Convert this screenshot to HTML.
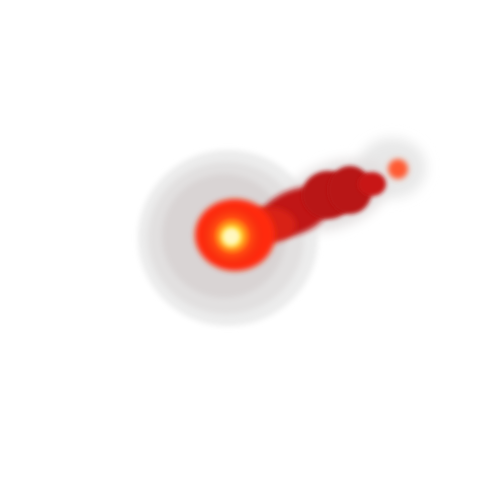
<!DOCTYPE html>
<html>
<head>
<meta charset="utf-8">
<style>
  html,body{margin:0;padding:0;background:#fff;}
  svg{display:block;}
</style>
</head>
<body>
<svg width="480" height="477" viewBox="0 0 480 477">
  <defs>
    <filter id="b8" x="-50%" y="-50%" width="200%" height="200%"><feGaussianBlur stdDeviation="6"/></filter>
    <filter id="b4" x="-50%" y="-50%" width="200%" height="200%"><feGaussianBlur stdDeviation="3"/></filter>
    <filter id="b2" x="-50%" y="-50%" width="200%" height="200%"><feGaussianBlur stdDeviation="2"/></filter>
    <radialGradient id="core" cx="50%" cy="50%" r="50%">
      <stop offset="0%" stop-color="#fffbd0"/>
      <stop offset="25%" stop-color="#ffd020"/>
      <stop offset="60%" stop-color="#ff4a10"/>
      <stop offset="100%" stop-color="#ee2a10" stop-opacity="0"/>
    </radialGradient>
  </defs>
  <g>
    <ellipse cx="228" cy="238" rx="90" ry="88" fill="#ececec" filter="url(#b4)"/>
    <ellipse cx="226" cy="238" rx="78" ry="76" fill="#e2e0e0" filter="url(#b4)"/>
    <ellipse cx="224" cy="236" rx="62" ry="62" fill="#d9d4d4" filter="url(#b4)"/>
    <ellipse cx="392" cy="168" rx="34" ry="30" fill="#e8e8e8" filter="url(#b8)"/>
    <ellipse cx="335" cy="195" rx="55" ry="32" fill="#e2dede" filter="url(#b8)" transform="rotate(-20 335 195)"/>
  </g>
  <g>
    <ellipse cx="295" cy="212" rx="38" ry="22" fill="#c01414" filter="url(#b4)" transform="rotate(-22 295 212)"/>
    <ellipse cx="328" cy="195" rx="26" ry="24" fill="#b81212" filter="url(#b2)"/>
    <ellipse cx="350" cy="190" rx="22" ry="24" fill="#b81414" filter="url(#b2)"/>
    <ellipse cx="372" cy="184" rx="14" ry="12" fill="#c81818" filter="url(#b2)"/>
    <ellipse cx="268" cy="225" rx="28" ry="18" fill="#d82416" filter="url(#b4)"/>
    <circle cx="398" cy="169" r="10" fill="#ff5a30" filter="url(#b4)"/>
  </g>
  <g>
    <ellipse cx="235" cy="235" rx="40" ry="36" fill="#ff2a10" filter="url(#b4)"/>
    <circle cx="232" cy="236" r="32" fill="url(#core)"/>
    <circle cx="231" cy="237" r="9" fill="#fff8c0" filter="url(#b4)"/>
  </g>
</svg>
</body>
</html>
